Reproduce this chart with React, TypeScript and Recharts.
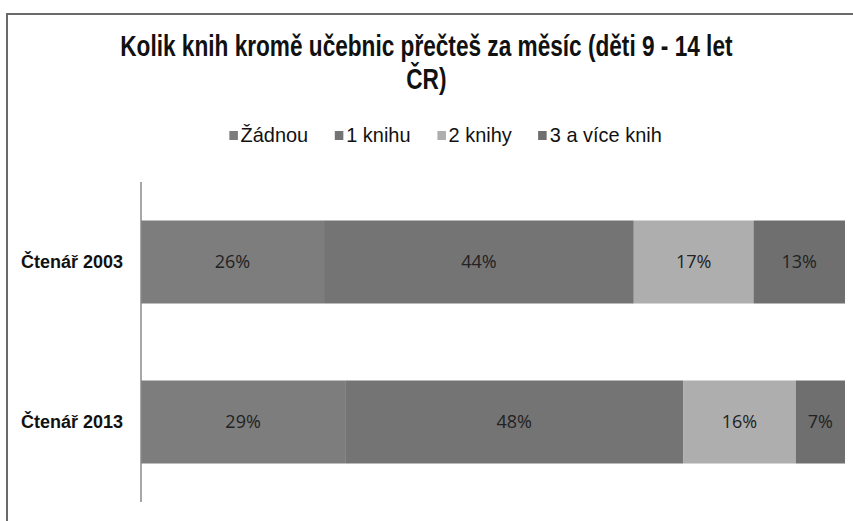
import React from "react";
import { BarChart, Bar, XAxis, YAxis, LabelList } from "recharts";

const categories = ["Čtenář 2003", "Čtenář 2013"];
const seriesNames = ["Žádnou", "1 knihu", "2 knihy", "3 a více knih"];
const zadnou = [26, 29];
const jednaKniha = [44, 48];
const dveKnihy = [17, 16];
const triAVice = [13, 7];
const colors = ["#7d7d7d", "#747474", "#aeaeae", "#6f6f6f"];
const title1 = "Kolik knih kromě učebnic přečteš za měsíc (děti 9 - 14 let";
const title2 = "ČR)";

const keys = ["s0", "s1", "s2", "s3"];
const data = categories.map((c, i) => ({
  name: c,
  s0: zadnou[i],
  s1: jednaKniha[i],
  s2: dveKnihy[i],
  s3: triAVice[i],
}));

const SANS = "'Liberation Sans', Arial, sans-serif";

export default function App() {
  return (
    <div
      style={{
        position: "absolute",
        left: 0,
        top: 0,
        width: 853,
        height: 521,
        background: "#fff",
        overflow: "hidden",
      }}
    >
      <div
        style={{
          position: "absolute",
          left: 6,
          top: 13,
          width: 853,
          height: 521,
          borderTop: "2px solid #6a6a6a",
          borderLeft: "2px solid #6a6a6a",
        }}
      />
      <div
        style={{
          position: "absolute",
          left: 0,
          top: 30,
          width: 853,
          textAlign: "center",
          fontFamily: SANS,
          fontSize: 29,
          fontWeight: "bold",
          lineHeight: "33px",
          color: "#111",
          transform: "scaleX(0.78)",
          transformOrigin: "426px 0",
        }}
      >
        <div>{title1}</div>
        <div>{title2}</div>
      </div>
      <div
        style={{
          position: "absolute",
          left: 38,
          top: 121,
          width: 815,
          display: "flex",
          justifyContent: "center",
          fontFamily: SANS,
          fontSize: 21,
          lineHeight: "28px",
          color: "#111",
          transform: "scaleX(0.95)",
          transformOrigin: "407px 0",
        }}
      >
        {seriesNames.map((n, i) => (
          <div
            key={n}
            style={{
              display: "flex",
              alignItems: "center",
              marginRight: i < seriesNames.length - 1 ? 28 : 0,
            }}
          >
            <span
              style={{
                display: "inline-block",
                width: 9,
                height: 9,
                background: colors[i],
                marginRight: 3,
              }}
            />
            <span>{n}</span>
          </div>
        ))}
      </div>
      <div style={{ position: "absolute", left: 0, top: 0 }}>
        <BarChart
          width={853}
          height={521}
          data={data}
          layout="vertical"
          margin={{ top: 182, right: 8, bottom: 19, left: 21 }}
          barCategoryGap="24%"
        >
          <XAxis type="number" domain={[0, 100]} hide />
          <YAxis
            type="category"
            dataKey="name"
            width={120}
            tickLine={false}
            tickSize={0}
            tickMargin={18}
            axisLine={{ stroke: "#8a8a8a", strokeWidth: 1.5 }}
            tick={{
              fill: "#111",
              fontFamily: SANS,
              fontSize: 18,
              fontWeight: "bold",
            }}
          />
          {keys.map((k, i) => (
            <Bar
              key={k}
              dataKey={k}
              name={seriesNames[i]}
              stackId="a"
              fill={colors[i]}
              isAnimationActive={false}
            >
              <LabelList
                dataKey={k}
                position="center"
                formatter={(v: number) => `${v}%`}
                style={{ fill: "#222", fontFamily: "'Open Sans', sans-serif", fontSize: 18 }}
              />
            </Bar>
          ))}
        </BarChart>
      </div>
    </div>
  );
}
